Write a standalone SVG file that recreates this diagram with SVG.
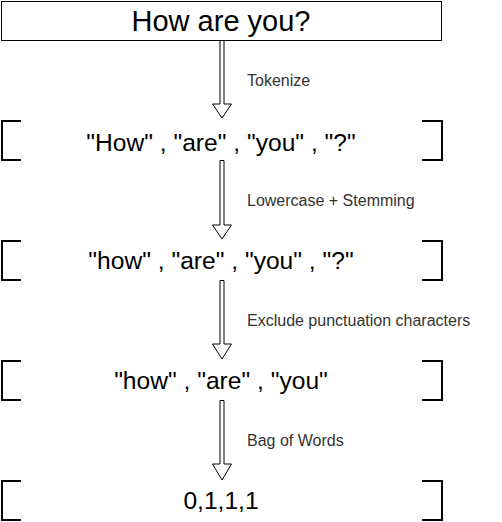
<svg xmlns="http://www.w3.org/2000/svg" width="502" height="522" viewBox="0 0 502 522">
<style>
.t{font-family:"Liberation Sans",Arial,sans-serif;fill:#000;text-anchor:middle}
.big{font-size:24.6px}
.lbl{font-family:"Liberation Sans",Arial,sans-serif;font-size:16px;fill:#333}
.br{fill:none;stroke:#000;stroke-width:2}
.ar{fill:#fff;stroke:#000;stroke-width:1}
</style>
<rect width="502" height="522" fill="#fff"/>
<g id="connectors">
<path class="ar" d="M220,40.5 L224,40.5 L224,104 L231.5,104 L222,118 L212.5,104 L220,104 Z"/>
<path class="ar" d="M220,160.5 L224,160.5 L224,225 L231.5,225 L222,239 L212.5,225 L220,225 Z"/>
<path class="ar" d="M220,280.5 L224,280.5 L224,344 L231.5,344 L222,359 L212.5,344 L220,344 Z"/>
<path class="ar" d="M220,400.5 L224,400.5 L224,464 L231.5,464 L222,480 L212.5,464 L220,464 Z"/>
<text class="lbl" x="247" y="86">Tokenize</text>
<text class="lbl" x="247" y="206">Lowercase + Stemming</text>
<text class="lbl" x="247" y="326">Exclude punctuation characters</text>
<text class="lbl" x="247" y="446">Bag of Words</text>
</g>
<g id="n0">
<rect x="1.5" y="1.5" width="440" height="39" fill="#fff" stroke="#000" stroke-width="1"/>
<text class="t" x="221" y="31" font-size="29px">How are you?</text>
</g>
<g id="n1">
<path class="br" d="M21,121 L2,121 L2,160 L21,160"/>
<path class="br" d="M422,121 L442,121 L442,160 L422,160"/>
<text class="t big" x="221" y="151">"How" , "are" , "you" , "?"</text>
</g>
<g id="n2">
<path class="br" d="M21,241 L2,241 L2,280 L21,280"/>
<path class="br" d="M422,241 L442,241 L442,280 L422,280"/>
<text class="t big" x="221" y="269">"how" , "are" , "you" , "?"</text>
</g>
<g id="n3">
<path class="br" d="M21,361 L2,361 L2,400 L21,400"/>
<path class="br" d="M422,361 L442,361 L442,400 L422,400"/>
<text class="t big" x="221" y="389">"how" , "are" , "you"</text>
</g>
<g id="n4">
<path class="br" d="M21,481 L2,481 L2,520 L21,520"/>
<path class="br" d="M422,481 L442,481 L442,520 L422,520"/>
<text class="t big" x="221" y="509">0,1,1,1</text>
</g>
</svg>
